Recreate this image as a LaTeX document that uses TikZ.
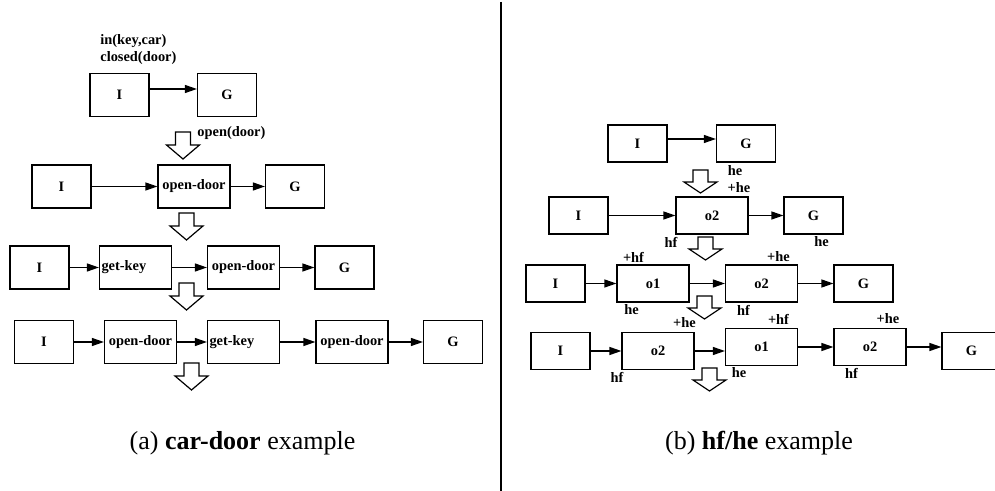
\documentclass[tikz,border=0pt]{standalone}
\usepackage{fontspec}
\setmainfont{Liberation Serif}
\usetikzlibrary{
  arrows.meta,
  positioning}
\newcommand{\lblfont}{\bfseries\fontsize{7.2}{8.5}\selectfont}

\begin{document}
\begin{tikzpicture}[
  x=0.5pt, y=-0.5pt,
  box/.style={draw,line width=0.6pt,minimum width=29.5pt,minimum height=21.5pt,inner sep=1pt,font=\lblfont},
  act/.style={box,minimum width=36pt},
  keyact/.style={act,text width=34pt,align=left},
  sbox/.style={box,minimum height=18.5pt},
  sact/.style={sbox,minimum width=36pt},
  link/.style={line width=0.6pt,-{Triangle[length=6pt,width=4pt]}},
  flow/.style={draw,line width=0.6pt,fill=white,line join=miter},
  note/.style={font=\lblfont,inner sep=0pt},
  caption/.style={font=\fontsize{13}{15}\selectfont,inner sep=0pt}
]%
  \useasboundingbox (0,0) rectangle (995,491);
  \clip (0,0) rectangle (995,491);

  % car-door: initial plan
  \node[note,align=left,anchor=west] (init) at (100,49.5) {in(key,car)\\closed(door)};
  \node[box] (I1) at (119.5,95) {I};
  \node[box] (G1) at (227,95) {G};
  \draw[link] ([yshift=3pt]I1.east) -- ([yshift=3pt]G1.west);
  \node[note,anchor=west] (opn) at (197,133) {open(door)};

  % car-door: refinements
  \node[box] (I2) at (61.5,186.5) {I};
  \node[act] (d2) at (194,186.5) {open-door};
  \node[box] (G2) at (295,186.5) {G};
  \draw[link] (I2) -- (d2);
  \draw[link] (d2) -- (G2);

  \node[box] (I3) at (39.5,267.5) {I};
  \node[keyact] (k3) at (135.5,267.5) {get-key};
  \node[act] (d3) at (243.5,267.5) {open-door};
  \node[box] (G3) at (344.5,267.5) {G};
  \draw[link] (I3) -- (k3);
  \draw[link] (k3) -- (d3);
  \draw[link] (d3) -- (G3);

  \node[box] (I4) at (44,342) {I};
  \node[act] (d4) at (140.5,342) {open-door};
  \node[keyact] (k4) at (243.5,342) {get-key};
  \node[act] (e4) at (352,342) {open-door};
  \node[box] (G4) at (453,342) {G};
  \draw[link] (I4) -- (d4);
  \draw[link] (d4) -- (k4);
  \draw[link] (k4) -- (e4);
  \draw[link] (e4) -- (G4);

  \node[caption] (capa) at (242.5,443) {(a) \textbf{car-door} example};

  % Divider
  \draw[line width=1pt] (501,2) coordinate (dtop) -- (501,491) coordinate (dbot);

  % hf/he: initial plan
  \node[sbox] (I5) at (637.5,143.5) {I};
  \node[sbox] (G5) at (746,143.5) {G};
  \draw[link] ([yshift=2.25pt]I5.east) -- ([yshift=2.25pt]G5.west);
  \node[note] (he5) at (735,171) {he};
  \node[note] (phe5) at (739,188) {+he};

  % hf/he: refinements
  \node[sbox] (I6) at (578.5,215.5) {I};
  \node[sact] (o6) at (712,215.5) {o2};
  \node[sbox] (G6) at (813.5,215.5) {G};
  \draw[link] (I6) -- (o6);
  \draw[link] (o6) -- (G6);
  \node[note] (hf6) at (671,242) {hf};
  \node[note] (he6) at (821.5,242) {he};

  \node[sbox] (I7) at (555.5,283.5) {I};
  \node[sact] (p7) at (653,283.5) {o1\hspace{3pt}};
  \node[sact] (o7) at (761.5,283.5) {o2};
  \node[sbox] (G7) at (863.5,283.5) {G};
  \draw[link] (I7) -- (p7);
  \draw[link] (p7) -- (o7);
  \draw[link] (o7) -- (G7);
  \node[note] (phf7) at (633.5,257) {+hf};
  \node[note] (phe7) at (778.5,257) {+he};
  \node[note] (he7) at (631.5,310) {he};
  \node[note] (hf7) at (743.5,310) {hf};
  \node[note] (phe8) at (684.5,323) {+he};

  \node[sbox] (I8) at (560.5,351) {I};
  \node[sact] (o8) at (658,351) {o2};
  \node[sact] (p8) at (761.5,347) {o1\hspace{3pt}};
  \node[sact] (q8) at (870,347) {o2};
  \node[sbox] (G8) at (971.5,351) {G};
  \draw[link] (I8) -- (o8);
  \draw[link] (o8.east) -- (o8.east -| p8.west);
  \draw[link] (p8) -- (q8);
  \draw[link] (q8.east) -- (q8.east -| G8.west);
  \node[note] (phf8) at (778.5,319) {+hf};
  \node[note] (phe9) at (888,319) {+he};
  \node[note] (hf8) at (617,377) {hf};
  \node[note] (he8) at (739,373) {he};
  \node[note] (hf9) at (851.5,373) {hf};

  \node[caption] (capb) at (759,443) {(b) \textbf{hf/he} example};

  % Refinement steps (x / top / shaft / head)
  \foreach \x/\y/\s/\h in {183/132/13/14, 186.5/213/13/14, 186.5/283/13/14, 191.5/363/13/14,
                           700.5/170/12/11, 705.5/237/12/11, 704.5/296/12/11, 709.5/368/12/11} {
    \draw[flow] (\x-7.5,\y) -- ++(15,0) -- ++(0,\s) -- ++(9,0)
      -- (\x,\y+\s+\h) -- (\x-16.5,\y+\s) -- ++(9,0) -- cycle;
  }

\end{tikzpicture}
\end{document}
